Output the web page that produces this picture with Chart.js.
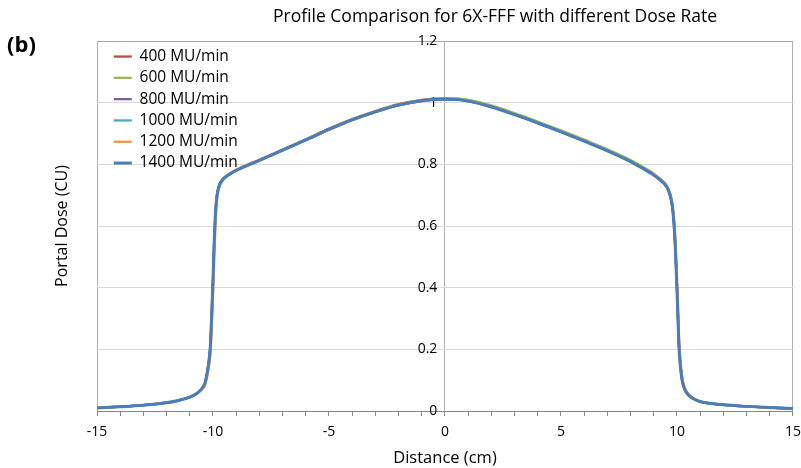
<!DOCTYPE html>
<html>
<head>
<meta charset="utf-8">
<script src="https://cdn.jsdelivr.net/npm/chart.js@4/dist/chart.umd.min.js"></script>
<style>
  html, body { margin: 0; padding: 0; background: #fff; }
  #wrap { width: 801px; height: 468px; }
</style>
</head>
<body>
<div id="wrap"><canvas id="myChart" width="801" height="468"></canvas></div>
<script>
// distance (cm), shared by all series
const distance = [
  -15, -14, -13, -12, -11.5, -11, -10.7, -10.5, -10.35, -10.25,
  -10.18, -10.12, -10.06, -10.0, -9.95, -9.9, -9.85, -9.8, -9.7, -9.55,
  -9.3, -9, -8.5, -8, -7, -6, -5, -4, -3, -2,
  -1, -0.5, 0, 0.5, 1, 2, 3, 4, 5, 6,
  7, 8, 8.5, 9, 9.3, 9.55, 9.7, 9.8, 9.87, 9.93,
  9.98, 10.03, 10.08, 10.14, 10.22, 10.32, 10.5, 10.75, 11, 11.5,
  12, 13, 14, 15,
];

const dose400 = [
  0.010, 0.014, 0.019, 0.027, 0.034, 0.045, 0.057, 0.071, 0.090, 0.124,
  0.158, 0.203, 0.302, 0.422, 0.543, 0.634, 0.686, 0.713, 0.739, 0.755,
  0.769, 0.782, 0.799, 0.815, 0.848, 0.881, 0.916, 0.947, 0.973, 0.995,
  1.009, 1.013, 1.014, 1.013, 1.008, 0.989, 0.964, 0.937, 0.908, 0.878,
  0.847, 0.812, 0.791, 0.768, 0.750, 0.730, 0.703, 0.665, 0.609, 0.530,
  0.436, 0.336, 0.220, 0.153, 0.102, 0.073, 0.052, 0.038, 0.030, 0.024,
  0.020, 0.015, 0.011, 0.008,
];
const dose600 = [
  0.010, 0.014, 0.019, 0.027, 0.034, 0.045, 0.057, 0.071, 0.089, 0.122,
  0.156, 0.200, 0.298, 0.418, 0.540, 0.632, 0.684, 0.712, 0.738, 0.754,
  0.768, 0.781, 0.798, 0.814, 0.847, 0.880, 0.914, 0.946, 0.972, 0.994,
  1.008, 1.012, 1.013, 1.013, 1.009, 0.991, 0.966, 0.939, 0.910, 0.880,
  0.849, 0.814, 0.793, 0.770, 0.752, 0.732, 0.705, 0.668, 0.612, 0.534,
  0.440, 0.340, 0.224, 0.156, 0.104, 0.074, 0.052, 0.039, 0.031, 0.024,
  0.020, 0.015, 0.011, 0.008,
];
const dose800 = [
  0.010, 0.014, 0.019, 0.027, 0.034, 0.045, 0.057, 0.071, 0.090, 0.125,
  0.160, 0.204, 0.304, 0.424, 0.544, 0.635, 0.685, 0.712, 0.737, 0.753,
  0.767, 0.780, 0.797, 0.813, 0.846, 0.879, 0.913, 0.944, 0.970, 0.992,
  1.006, 1.010, 1.011, 1.010, 1.005, 0.986, 0.961, 0.934, 0.905, 0.875,
  0.844, 0.809, 0.788, 0.765, 0.747, 0.727, 0.700, 0.662, 0.605, 0.525,
  0.430, 0.330, 0.215, 0.150, 0.100, 0.072, 0.051, 0.038, 0.030, 0.024,
  0.020, 0.015, 0.011, 0.008,
];
const dose1000 = [
  0.010, 0.014, 0.019, 0.027, 0.034, 0.045, 0.057, 0.070, 0.088, 0.120,
  0.154, 0.196, 0.294, 0.414, 0.536, 0.630, 0.683, 0.711, 0.737, 0.753,
  0.767, 0.780, 0.797, 0.813, 0.846, 0.879, 0.913, 0.944, 0.970, 0.992,
  1.006, 1.010, 1.011, 1.010, 1.005, 0.987, 0.962, 0.935, 0.906, 0.876,
  0.845, 0.810, 0.789, 0.766, 0.748, 0.729, 0.702, 0.666, 0.611, 0.533,
  0.440, 0.341, 0.226, 0.158, 0.105, 0.075, 0.053, 0.039, 0.031, 0.024,
  0.020, 0.015, 0.011, 0.008,
];
const dose1200 = [
  0.010, 0.014, 0.019, 0.027, 0.034, 0.044, 0.055, 0.068, 0.082, 0.110,
  0.140, 0.175, 0.260, 0.370, 0.490, 0.590, 0.660, 0.700, 0.730, 0.750,
  0.766, 0.779, 0.796, 0.812, 0.845, 0.878, 0.912, 0.943, 0.969, 0.991,
  1.005, 1.009, 1.010, 1.010, 1.005, 0.987, 0.962, 0.935, 0.906, 0.876,
  0.845, 0.811, 0.790, 0.768, 0.751, 0.732, 0.706, 0.675, 0.630, 0.560,
  0.470, 0.370, 0.255, 0.175, 0.115, 0.080, 0.055, 0.040, 0.031, 0.025,
  0.020, 0.015, 0.011, 0.008,
];
const dose1400 = [
  0.010, 0.014, 0.019, 0.027, 0.034, 0.045, 0.057, 0.071, 0.090, 0.125,
  0.160, 0.205, 0.305, 0.425, 0.545, 0.635, 0.685, 0.712, 0.737, 0.753,
  0.767, 0.780, 0.797, 0.813, 0.846, 0.879, 0.913, 0.944, 0.970, 0.992,
  1.006, 1.010, 1.011, 1.010, 1.005, 0.986, 0.961, 0.934, 0.905, 0.875,
  0.844, 0.809, 0.788, 0.765, 0.747, 0.727, 0.700, 0.662, 0.605, 0.525,
  0.430, 0.330, 0.215, 0.150, 0.100, 0.072, 0.051, 0.038, 0.030, 0.024,
  0.020, 0.015, 0.011, 0.008,
];

const seriesNames = ['400 MU/min', '600 MU/min', '800 MU/min', '1000 MU/min', '1200 MU/min', '1400 MU/min'];
const seriesValues = [dose400, dose600, dose800, dose1000, dose1200, dose1400];
const seriesColors = ['#be4b48', '#98b954', '#7d60a0', '#46aac5', '#f69240', '#4a7ebb'];
const xTickLabels = [-15, -10, -5, 0, 5, 10, 15];
const yTickLabels = [0, 0.2, 0.4, 0.6, 0.8, 1, 1.2];

const FONT = '"Open Sans", "Liberation Sans", sans-serif';
const ctx = document.getElementById('myChart').getContext('2d');

// title and panel letter sit off-centre, so they are drawn by hand
const headerText = {
  id: 'headerText',
  afterDraw(chart) {
    const c = chart.ctx;
    c.save();
    c.fillStyle = '#000';
    c.textBaseline = 'middle';
    c.font = `bold 22px ${FONT}`;
    c.textAlign = 'left';
    c.fillText('(b)', 7, 46);
    c.font = `17.5px ${FONT}`;
    c.textAlign = 'center';
    c.fillText('Profile Comparison for 6X-FFF with different Dose Rate', 495, 17);
    c.restore();
  },
};

// the 'chartArea' legend lands at the canvas top, pull it back inside the plot
const legendInPlot = {
  id: 'legendInPlot',
  afterLayout(chart) {
    const area = chart.chartArea;
    chart.legend.top = area.top + 2;
    chart.legend.bottom = area.bottom;
    chart.legend.left = area.left + 11;
  },
};

const datasets = seriesNames.map((name, i) => ({
  label: name,
  data: distance.map((d, j) => ({ x: d, y: seriesValues[i][j] })),
  borderColor: seriesColors[i],
  backgroundColor: seriesColors[i],
  borderWidth: i === 5 ? 3 : 2.3,
  pointRadius: 0,
  cubicInterpolationMode: 'monotone',
  order: seriesNames.length - i, // last series on top
}));

const chart = new Chart(ctx, {
  type: 'line',
  data: { datasets },
  plugins: [headerText, legendInPlot],
  options: {
    responsive: false,
    animation: false,
    layout: { padding: { top: 41, left: 44, right: 0, bottom: 0 } },
    plugins: {
      title: { display: false },
      tooltip: { enabled: false },
      legend: {
        position: 'chartArea',
        align: 'start',
        labels: {
          usePointStyle: true,
          pointStyle: 'line',
          pointStyleWidth: 18,
          color: '#000',
          padding: 5.8,
          font: { family: FONT, size: 15.5 },
          sort: (a, b) => a.datasetIndex - b.datasetIndex,
        },
      },
    },
    scales: {
      x: {
        type: 'linear',
        min: -15,
        max: 15,
        ticks: {
          stepSize: 1,
          autoSkip: false,
          maxRotation: 0,
          padding: 0,
          color: '#000',
          // tall line box pushes the labels down without widening the side padding
          font: { family: FONT, size: 14, lineHeight: 2.3 },
          callback: (v) => (xTickLabels.includes(v) ? String(v) : ''),
        },
        grid: {
          drawOnChartArea: true,
          color: (c) => ([-15, 0, 15].includes(c.tick.value) ? '#b0b0b0' : 'rgba(0,0,0,0)'),
          tickColor: '#868686',
          tickLength: 5,
        },
        border: { color: '#868686' },
        title: {
          display: true,
          text: 'Distance (cm)',
          color: '#000',
          font: { family: FONT, size: 16.5 },
          padding: { top: 0, bottom: 0 },
        },
      },
      y: {
        type: 'linear',
        // labels right-align on this value, just left of the x = 0 line
        position: { x: -0.33 },
        min: 0,
        max: 1.2,
        ticks: {
          stepSize: 0.2,
          color: '#000',
          font: { family: FONT, size: 14 },
          callback: (v) => (yTickLabels.some((t) => Math.abs(t - v) < 1e-6) ? String(+v.toFixed(1)) : ''),
        },
        grid: {
          color: (c) => (c.tick.value > 1.19 ? '#a6a6a6' : '#d9d9d9'),
          drawTicks: false,
        },
        border: { display: false },
      },
      yTitle: {
        type: 'linear',
        position: 'left',
        min: 0,
        max: 1.2,
        ticks: { display: false },
        grid: { display: false },
        border: { display: false },
        title: {
          display: true,
          text: 'Portal Dose (CU)',
          color: '#000',
          font: { family: FONT, size: 16 },
          padding: { top: 8.4, bottom: 17.4 },
        },
      },
    },
  },
});
</script>
</body>
</html>
